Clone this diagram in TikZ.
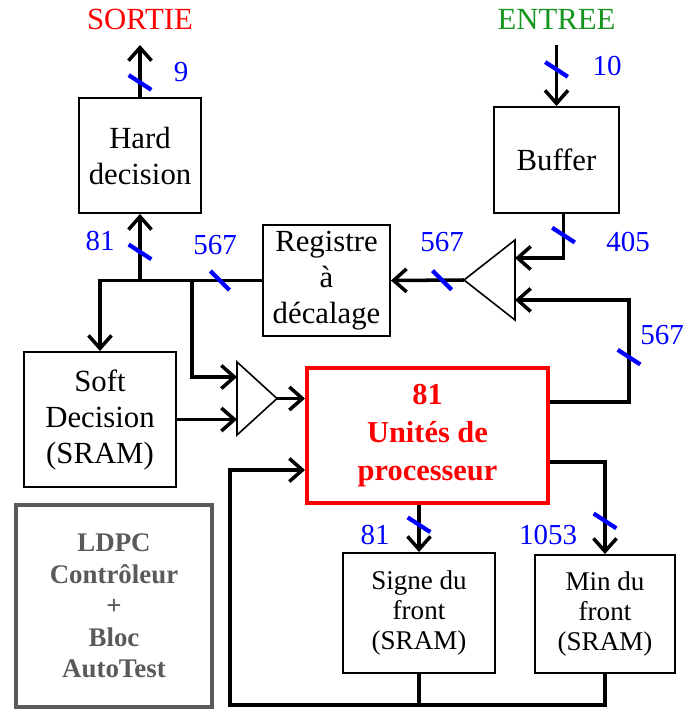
\documentclass[tikz,border=0pt]{standalone}
\usepackage{fontspec}
\setmainfont{Liberation Serif}
\usepackage{tikz}
\usetikzlibrary{arrows.meta,positioning,calc}
\definecolor{entreegreen}{RGB}{20,150,30}
\definecolor{ctrlgray}{RGB}{90,90,90}

\begin{document}
\begin{tikzpicture}[
  x=0.02cm,y=-0.02cm,
  block/.style={draw,line width=1.1pt,align=center,inner sep=0pt,
                font=\fontsize{17.5}{20.5}\selectfont},
  sram/.style={block,font=\fontsize{15.4}{17}\selectfont},
  wire/.style={line width=2pt},
  arrow/.style={wire,-{Straight Barb[length=2.6mm,width=4.6mm]}},
  busbase/.style={fill=blue,inner sep=0pt,minimum width=0.54cm,minimum height=2.4pt},
  bus/.style={busbase,rotate=-33},
  hbus/.style={busbase,rotate=-45},
  buswidth/.style={text=blue,inner sep=0pt,font=\fontsize{16.5}{18}\selectfont},
  ioport/.style={inner xsep=0pt,inner ysep=8.5pt,anchor=south,
                 font=\fontsize{17.5}{20}\selectfont},
  amp/.style={line width=0.9pt,line join=miter}
]
  \useasboundingbox (0,0) rectangle (687,709);

  % blocs
  \node[block,minimum width=2.44cm,minimum height=2.30cm] (hard)   at (140,155.5) {Hard\\decision};
  \node[block,minimum width=2.50cm,minimum height=2.12cm] (buffer) at (556.5,160) {Buffer};
  \node[block,minimum width=2.54cm,minimum height=2.22cm] (reg)    at (326.5,280.5) {Registre\\à\\décalage};
  \node[block,minimum width=3.04cm,minimum height=2.70cm] (soft)   at (100,419.5) {Soft\\Decision\\(SRAM)};
  \node[block,draw=red,line width=2.3pt,text=red,
        font=\fontsize{17.3}{21.5}\selectfont\bfseries,
        minimum width=4.82cm,minimum height=2.70cm] (proc) at (427.5,435.5) {81\\Unités de\\processeur};
  \node[sram,minimum width=3.04cm,minimum height=2.40cm] (signe) at (419,613) {Signe du\\front\\(SRAM)};
  \node[sram,minimum width=2.80cm,minimum height=2.36cm] (minf)  at (605,614) {Min du\\front\\(SRAM)};
  \node[block,draw=ctrlgray,line width=2.3pt,text=ctrlgray,
        font=\fontsize{15.3}{18}\selectfont\bfseries,
        minimum width=3.92cm,minimum height=4.04cm] (ldpc) at (114,606) {LDPC\\Contrôleur\\+\\Bloc\\AutoTest};

  % entree / sortie
  \node[ioport,text=red] (sortie) at (140,45) {SORTIE};
  \node[ioport,text=entreegreen] (entree) at (556.5,45) {ENTREE};

  % amplis
  \coordinate (a1)   at (515,280);
  \coordinate (a1o)  at (464,280);
  \coordinate (a1i1) at (515,258);
  \coordinate (a1i2) at (515,300);
  \draw[amp] ($(a1)+(0,-40)$) -- (a1o) -- ($(a1)+(0,40)$) -- cycle;
  \coordinate (a2)   at (237,398.5);
  \coordinate (a2o)  at (277,398.5);
  \coordinate (a2i1) at (237,377);
  \coordinate (a2i2) at (237,419.5);
  \draw[amp] ($(a2)+(0,-36.5)$) -- (a2o) -- ($(a2)+(0,36.5)$) -- cycle;

  % liaisons
  \coordinate (j1) at (hard.south |- reg.west);
  \coordinate (j2) at ($(reg.west)+(-70,0)$);
  \coordinate (pout1) at ($(proc.east)+(0,-33.5)$);
  \coordinate (pout2) at ($(proc.east)+(0,26.5)$);
  \coordinate (pin2)  at ($(proc.west)+(0,34.5)$);
  \coordinate (bot)   at (230,705);

  \draw[arrow] (hard.north) -- node[bus,pos=.28]{} (sortie.south);
  \draw[arrow] (entree.south) -- node[bus,pos=.4]{} (buffer.north);
  \draw[arrow] (j1) -- node[bus,pos=.43]{} (hard.south);
  \draw[arrow] (reg.west) -| node[hbus,pos=.13]{} (soft.north);
  \draw[arrow] (j2) |- (a2i1);
  \draw[arrow] (soft.east) -- (a2i2);
  \draw[arrow] (a2o) -- (proc.west |- a2o);
  \draw[arrow] (a1o) -- node[hbus,pos=.3]{} (reg.east);
  \draw[arrow] ($(buffer.south)+(7,0)$) |- node[bus,pos=.24]{} (a1i1);
  \draw[arrow] (pout1) -- ++(79,0) |- node[bus,pos=.22]{} (a1i2);
  \draw[arrow] (signe.north |- proc.south) -- node[bus,pos=.42]{} (signe.north);
  \draw[arrow] (pout2) -| node[bus,pos=.82]{} (minf.north);
  \draw[arrow] (minf.south) |- (bot) |- (pin2);
  \draw[wire] (signe.south) -- (signe.south |- bot);

  % largeurs de bus
  \node[buswidth] (w9)    at (181,72)  {9};
  \node[buswidth] (w10)   at (607,66)  {10};
  \node[buswidth] (w81a)  at (100,241) {81};
  \node[buswidth] (w567a) at (215,245) {567};
  \node[buswidth] (w567b) at (442,242) {567};
  \node[buswidth] (w405)  at (628,242) {405};
  \node[buswidth] (w567c) at (662,335) {567};
  \node[buswidth] (w81b)  at (375,535) {81};
  \node[buswidth] (w1053) at (548,535) {1053};
\end{tikzpicture}
\end{document}
